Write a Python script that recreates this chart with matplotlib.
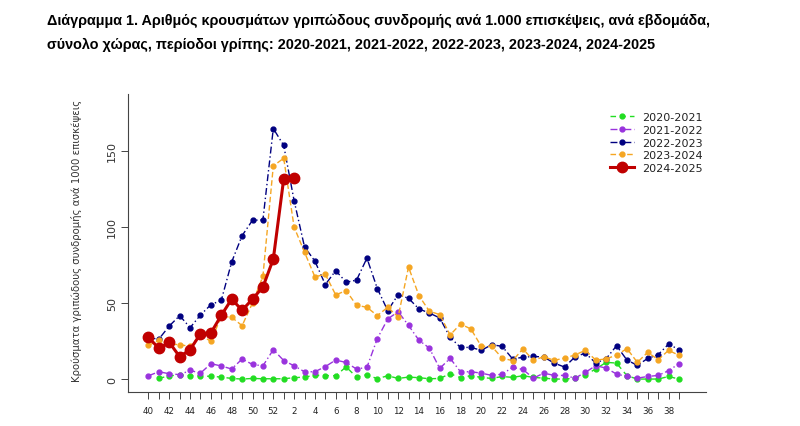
import matplotlib
matplotlib.use("Agg")
import matplotlib.pyplot as plt
import numpy as np

weeks = list(range(40, 53)) + list(range(1, 40))

s2020 = [np.nan, 0.4, 2.2, 2.6, 2.2, 2.0, 1.8, 1.3, 0.4, 0.0, 0.4, 0.2, 0.2, 0.2, 0.9, 1.3,
         2.5, 2.3, 2.2, 8.0, 1.3, 2.9, 0.2, 2.2, 0.4, 1.3, 0.9, 0.2, 0.4, 3.5, 0.9, 2.2,
         1.1, 0.4, 1.7, 1.1, 2.2, 1.1, 0.6, 0.0, 0.0, 0.6, 2.8, 6.6, 11.0, 10.5, 2.2, 0.0,
         0.0, 0.0, 1.7, 0.0]
s2021 = [2.2, 4.8, 3.5, 2.9, 5.7, 3.9, 10.1, 8.6, 6.6, 13.2, 9.6, 8.7, 19.3, 12.2, 8.7, 4.8,
         4.8, 8.2, 12.5, 10.9, 6.6, 7.7, 26.6, 39.5, 44.3, 35.3, 25.5, 20.4, 7.0, 13.6, 4.8, 4.8,
         3.9, 2.4, 3.2, 7.7, 6.3, 0.6, 3.9, 2.4, 2.4, 0.6, 4.4, 8.8, 7.2, 3.3, 1.7, 0.6,
         1.7, 2.4, 5.5, 10.1]
s2022 = [27.0, 26.3, 34.9, 41.7, 33.8, 42.1, 48.9, 51.8, 77.0, 94.3, 104.4, 104.6, 164.7, 153.6, 117.3, 86.9,
         77.5, 62.1, 71.3, 63.7, 65.0, 79.5, 59.5, 45.0, 55.5, 53.1, 46.1, 43.4, 40.2, 27.4, 20.8, 20.8,
         18.9, 22.6, 21.5, 13.3, 14.3, 14.9, 14.5, 10.5, 7.9, 14.5, 17.1, 10.5, 13.4, 21.9, 12.5, 9.0,
         13.6, 16.0, 23.0, 19.3]
s2023 = [22.1, 25.5, 23.0, 22.6, 21.5, 29.0, 24.8, 41.2, 40.6, 35.1, 50.0, 67.5, 140.1, 145.2, 99.9, 83.4,
         67.2, 68.9, 55.3, 58.2, 48.5, 47.2, 41.7, 47.2, 40.9, 73.6, 54.9, 44.6, 42.4, 29.0, 36.2, 32.9,
         21.5, 21.5, 13.8, 12.1, 19.8, 12.3, 14.7, 12.3, 13.8, 15.8, 18.9, 12.5, 13.2, 15.8, 20.0, 11.0,
         17.6, 12.7, 18.9, 15.6]
s2024 = [27.4, 20.2, 24.1, 14.7, 19.3, 29.8, 30.3, 41.9, 52.6, 45.2, 52.6, 60.5, 78.9, 131.6, 132.5]

labels = ["2020-2021", "2021-2022", "2022-2023", "2023-2024", "2024-2025"]

title1 = "Διάγραμμα 1. Αριθμός κρουσμάτων γριπώδους συνδρομής ανά 1.000 επισκέψεις, ανά εβδομάδα,"
title2 = "σύνολο χώρας, περίοδοι γρίπης: 2020-2021, 2021-2022, 2022-2023, 2023-2024, 2024-2025"

fig = plt.figure(figsize=(8, 4.27), dpi=100)
ax = fig.add_axes([0.16, 0.08, 0.7225, 0.6975])

x = np.arange(len(weeks))
ax.plot(x, s2020, color="#22dd22", ls=(0, (4, 3)), lw=1.0, marker="o", ms=3.5, label=labels[0])
ax.plot(x, s2021, color="#9933dd", ls=(0, (5, 2, 1, 2)), lw=1.0, marker="o", ms=3.5, label=labels[1])
ax.plot(x, s2022, color="#000080", ls=(0, (5, 2, 1, 2)), lw=1.0, marker="o", ms=3.5, label=labels[2])
ax.plot(x, s2023, color="#f5a623", ls=(0, (4, 2)), lw=1.0, marker="o", ms=3.5, label=labels[3])
ax.plot(x[:len(s2024)], s2024, color="#c00000", ls="-", lw=2.2, marker="o", ms=7.5, label=labels[4])

ax.set_xlim(-1.97, 53.6)
ax.set_ylim(-8.4, 187.4)

ax.spines["top"].set_visible(False)
ax.spines["right"].set_visible(False)
for sp in ["left", "bottom"]:
    ax.spines[sp].set_color("#444444")
    ax.spines[sp].set_linewidth(0.8)

ax.set_xticks(x)
ax.set_xticklabels([str(w) if i % 2 == 0 else "" for i, w in enumerate(weeks)], fontsize=6.3, color="#222222")
ax.set_yticks([0, 50, 100, 150])
ax.set_yticklabels(["0", "50", "100", "150"], rotation=90, va="center", fontsize=8, color="#333333")
ax.tick_params(axis="x", length=5, width=0.7, color="#444444", pad=5)
ax.tick_params(axis="y", length=5, width=0.7, color="#444444", pad=3)

fig.text(77 / 800, 1 - 241 / 427, "Κρούσματα γριπώδους συνδρομής ανά 1000 επισκέψεις",
         fontsize=7.3, color="#333333", rotation=90, ha="center", va="center")

leg = ax.legend(loc="upper left", bbox_to_anchor=(600 / 800, 1 - 103 / 427), bbox_transform=fig.transFigure,
                frameon=False, fontsize=8, handlelength=2.2, labelspacing=0.25, handletextpad=0.7)
for t in leg.get_texts():
    t.set_color("#222222")

# title: fit the first line to the width seen in the picture
t1 = fig.text(47 / 800, 1 - 21 / 427, title1, fontsize=10, fontweight="bold",
              family="Liberation Sans", va="center", ha="left")
t2 = fig.text(47 / 800, 1 - 45 / 427, title2, fontsize=10, fontweight="bold",
              family="Liberation Sans", va="center", ha="left")
r = fig.canvas.get_renderer()
w = t1.get_window_extent(r).width
fs = 10 * 665 / w
t1.set_fontsize(fs)
t2.set_fontsize(fs)

fig.savefig("out.png", dpi=100)
